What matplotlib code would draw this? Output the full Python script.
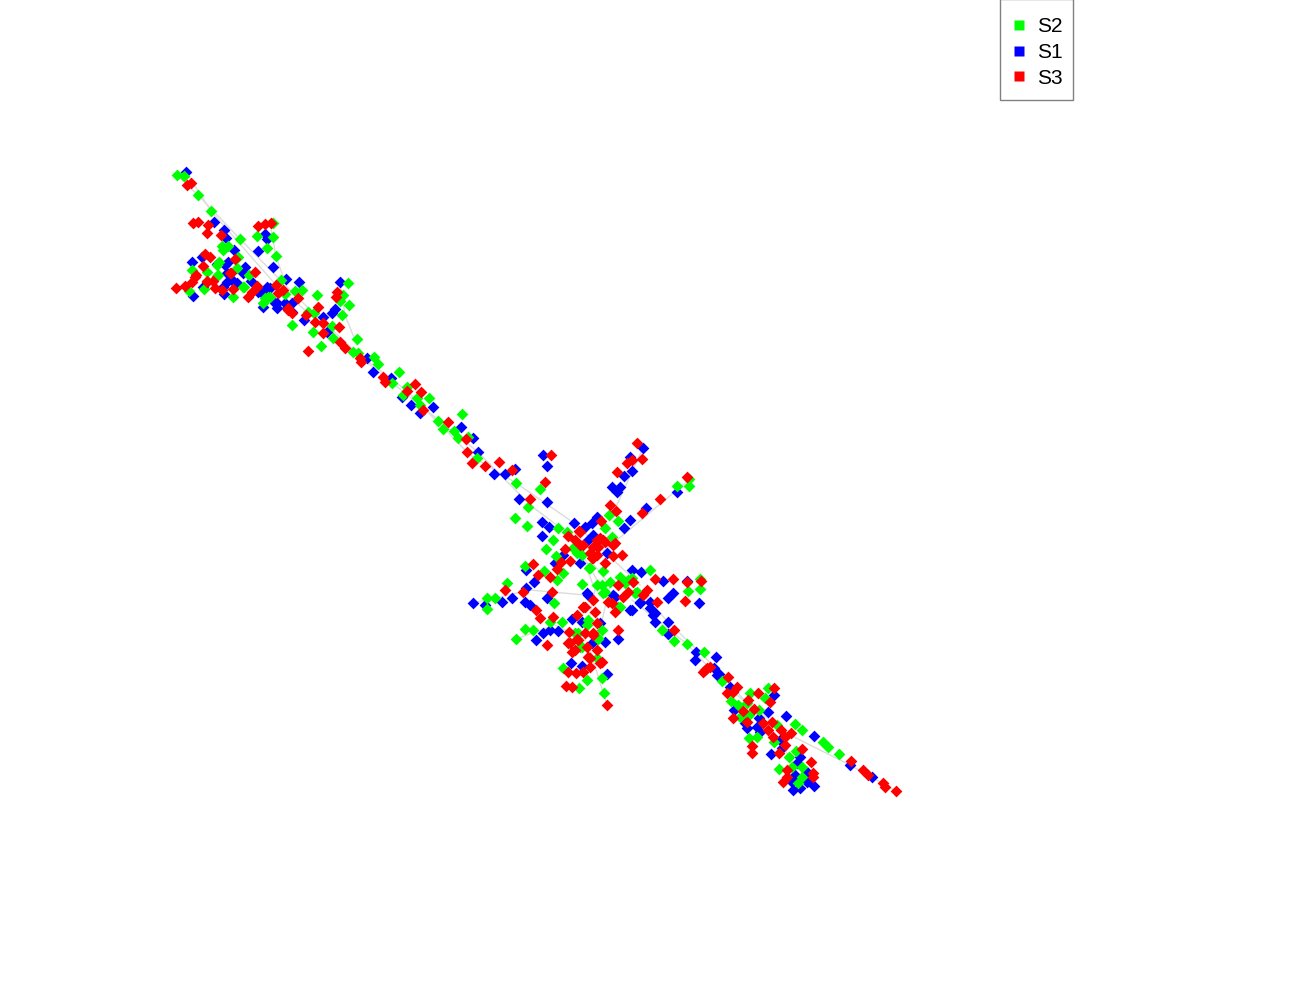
#!/usr/bin/env python3
"""Network layout scatter: nodes coloured by S1 / S2 / S3, pale grey links."""
import matplotlib
matplotlib.use('Agg')
import matplotlib.pyplot as plt
from matplotlib.lines import Line2D
from matplotlib.patches import Rectangle
import numpy as np

plt.rcParams['font.family'] = ['Liberation Sans', 'DejaVu Sans']

# node positions (layout units, y down)
s2_xy = [
    (177,175),(184,176),(198,195),(211,211),(240,239),(222,246),(228,246),(223,250),(257,236),(273,223),
    (273,237),(267,248),(276,256),(192,270),(207,272),(217,276),(219,262),(237,268),(238,257),(249,275),
    (244,287),(233,297),(189,291),(204,289),(263,303),(270,297),(281,280),(295,291),(302,290),(317,295),
    (292,325),(285,294),(308,312),(314,313),(342,315),(349,305),(343,295),(340,301),(348,283),(332,326),
    (313,332),(333,338),(321,346),(357,339),(353,352),(358,353),
    (399,372),(374,357),(378,364),(392,383),(407,387),(403,395),(417,398),(429,398),(420,405),(438,421),
    (443,429),(462,414),(454,431),(458,438),(477,458),(468,437),(516,483),
    (540,489),(528,507),(515,518),(527,526),(609,515),(618,521),(605,528),(677,486),(689,479),(689,486),
    (558,528),(553,540),(567,532),(612,537),(546,549),(577,553),(573,548),(582,555),(556,556),(525,566),
    (544,571),(557,580),(563,573),(589,568),(603,571),(582,584),(507,583),(495,598),(487,598),(487,609),
    (554,603),(562,622),(525,629),(533,630),(516,639),(550,622),(597,585),(603,593),(620,577),(610,582),
    (637,592),(650,570),(628,580),(688,591),(700,579),(700,589),(620,607),(584,607),(588,620),(575,633),
    (602,630),(598,639),(580,647),(597,658),(563,668),(587,680),(579,688),(602,678),(604,693),(662,630),
    (674,641),(687,644),(704,652),
    (722,681),(750,693),(768,688),(765,698),(731,701),(738,705),(747,703),(759,710),(740,717),(749,715),
    (777,725),(795,724),(802,730),(823,742),(828,747),(839,754),(774,742),(749,738),(757,737),(796,751),
    (789,757),(792,767),(779,769),(802,767),(802,777),(798,783),
    # dense clusters
    (578,548),(590,568),(625,583),(635,593),(605,592),(618,607),(632,578),(602,585),(587,625),(578,633),
    (598,638),(582,647),(218,275),(217,265),(243,287),(265,298),(268,297),
]
s1_xy = [
    (186,172),(214,222),(224,230),(226,238),(234,250),(265,234),(267,239),(258,251),(273,267),(192,262),
    (202,257),(217,264),(225,265),(228,262),(245,267),(243,273),(227,273),(232,280),(237,283),(251,281),
    (203,287),(193,296),(224,294),(267,287),(261,292),(265,292),(263,307),(275,303),(277,308),(286,279),
    (299,282),(287,308),(292,312),(304,320),(323,317),(327,332),(335,309),(332,313),(340,282),(367,358),
    (373,372),(391,378),(411,405),(433,407),(402,397),(461,427),(473,438),(478,452),(494,474),(505,474),
    (515,469),(420,413),
    (543,455),(547,466),(519,499),(547,502),(542,522),(549,527),(542,536),(574,523),(630,457),(643,448),
    (632,471),(624,476),(612,487),(620,487),(617,492),(630,520),(624,528),(646,508),(677,492),(597,517),
    (592,523),(585,527),(593,535),(588,540),(563,555),(607,553),(580,563),(555,563),(526,570),(534,582),
    (526,588),(473,603),(485,605),(502,602),(512,598),(525,602),(530,605),(547,598),(572,619),(536,640),
    (543,633),(550,630),(558,631),(605,642),(618,639),(571,663),(582,666),(607,674),(588,595),(613,595),
    (632,570),(641,572),(663,581),(687,581),(673,593),(668,598),(699,603),(640,603),(632,610),(650,602),
    (655,613),(655,622),(668,622),(668,634),(696,652),(695,660),(716,657),(717,675),(600,623),
    (719,674),(714,668),(730,687),(774,695),(734,710),(768,712),(786,716),(759,718),(745,723),(747,728),
    (757,727),(760,732),(814,736),(771,754),(780,740),(782,748),(800,757),(797,763),(807,772),(807,782),
    (814,786),(793,790),(800,788),(795,775),(792,782),(850,765),(872,777),
    # dense clusters
    (630,610),(650,608),(653,615),(615,597),(640,602),(587,593),(592,643),(582,622),(232,280),(227,282),
    (223,287),(277,303),(270,288),(258,292),(285,303),(292,303),
]
s3_xy = [
    (176,288),(185,286),(192,282),(196,275),(187,185),(191,183),(193,223),(198,222),(208,225),(207,233),
    (221,235),(258,226),(265,224),(271,223),(205,254),(210,257),(203,266),(235,259),(255,272),(231,273),
    (207,281),(213,281),(215,288),(222,290),(233,289),(248,297),(252,292),(257,286),(276,285),(278,293),
    (283,290),(288,308),(292,313),(298,298),(306,315),(318,307),(315,322),(323,323),(323,333),(339,327),
    (337,292),(336,297),(340,342),(345,348),(308,351),(360,358),
    (361,362),(383,377),(385,382),(415,384),(407,391),(421,392),(423,410),(448,422),(466,439),(467,452),
    (472,463),(485,466),(499,462),(512,470),
    (551,455),(545,482),(530,499),(637,443),(642,459),(632,460),(627,463),(617,472),(610,505),(616,511),
    (660,499),(642,513),(687,477),(601,521),(579,531),(568,536),(575,540),(583,545),(600,538),(593,547),
    (605,542),(615,543),(597,555),(592,558),(613,556),(622,555),(605,563),(565,549),(570,561),(561,562),
    (557,569),(550,577),(538,575),(533,564),(523,592),(505,590),(552,592),(536,610),(540,618),(553,617),
    (547,645),(593,600),(608,602),(615,612),(595,612),(577,615),(583,607),(597,623),(618,585),(628,592),
    (633,582),(647,590),(655,579),(673,579),(687,582),(685,601),(657,602),(701,581),(618,630),(674,630),
    (569,632),(578,640),(593,633),(568,643),(572,652),(587,647),(588,657),(602,662),(590,667),(583,672),
    (576,673),(568,672),(566,686),(572,687),(607,705),(707,668),(703,672),
    (705,670),(710,667),(728,677),(737,687),(727,693),(733,692),(758,693),(774,688),(770,702),(748,700),
    (754,709),(743,711),(733,718),(763,723),(772,722),(768,730),(781,730),(791,733),(785,737),(773,737),
    (785,745),(752,746),(752,753),(779,753),(802,749),(811,762),(787,770),(787,777),(783,782),(813,773),
    (813,777),(851,761),(863,770),(868,775),(883,783),(885,787),(896,791),(747,722),
    # dense clusters
    (580,545),(590,553),(593,558),(597,540),(598,547),(603,540),(613,545),(580,532),(623,597),(612,603),
    (643,595),(585,607),(570,643),(575,650),(577,639),(585,633),(593,635),(597,650),(590,658),(600,663),
    (230,273),(257,287),(288,310),(207,282),(195,277),
]

series_names = ['S2', 'S1', 'S3']
series_colors = ['#00ff00', '#0000ff', '#ff0000']

# main link bundles between the clusters
link_paths = [
    [(177,175),(198,195),(240,239),(300,300),(357,353),(407,391),(470,455),(516,483),(574,523),(640,585)],
    [(186,172),(211,211),(276,285),(345,345),(420,405),(478,452),(530,505),(590,550)],
    [(340,282),(345,315),(357,345)],
    [(270,224),(276,256),(286,285)],
    [(640,590),(668,622),(716,668),(760,718),(800,770)],
    [(632,600),(687,644),(730,690),(790,735),(850,765),(896,791)],
    [(582,555),(595,590),(585,640)],
    [(590,560),(610,585),(600,630)],
    [(574,540),(600,585)],
    [(643,448),(610,520)],
    [(689,480),(605,550)],
    [(473,603),(530,590),(585,595)],
    [(516,639),(555,625),(585,640)],
    [(607,705),(590,650)],
]


def main():
    fig = plt.figure(figsize=(13, 10), dpi=100)
    ax = fig.add_axes([0, 0, 1, 1])
    ax.set_xlim(0, 1300)
    ax.set_ylim(1000, 0)
    ax.axis('off')

    for path in link_paths:
        pts = np.array(path)
        ax.plot(pts[:, 0], pts[:, 1], color='#dcdcdc', lw=1.0, zorder=1)

    # blue underneath, then green, red ends up on top like in the original
    for xy, color, z in [(s1_xy, '#0000ff', 2), (s2_xy, '#00ff00', 3), (s3_xy, '#ff0000', 4)]:
        pts = np.array(xy)
        ax.scatter(pts[:, 0], pts[:, 1], s=36, marker='D', c=color, linewidths=0, zorder=z)

    # frame drawn by hand, the legend's own padding is the same on all sides
    ax.add_patch(Rectangle((999.5, -1), 73, 101, facecolor='white', edgecolor='#808080',
                           linewidth=1.0, zorder=5))
    handles = [Line2D([], [], ls='none', marker='s', ms=7.2, mec='none', mfc=c)
               for c in series_colors]
    leg = ax.legend(handles, series_names, loc='upper left', bbox_to_anchor=(1014 / 1300, 1 - 17 / 1000),
                    borderaxespad=0, borderpad=0, fontsize=15, frameon=False,
                    handlelength=0.5, handletextpad=0.62, labelspacing=0.33)
    leg.set_zorder(6)

    fig.savefig('out.png', dpi=100, facecolor='white')
    plt.close(fig)


if __name__ == "__main__":
    main()
